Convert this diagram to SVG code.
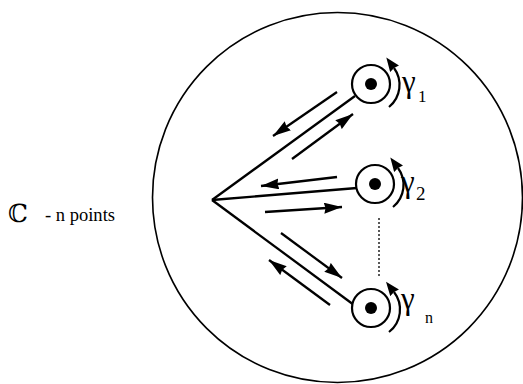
<svg xmlns="http://www.w3.org/2000/svg" width="523" height="384" viewBox="0 0 523 384">
<style>
.ln{stroke:#000;stroke-width:2.3;fill:none}
.ar{stroke:#000;stroke-width:2.3;fill:none;marker-end:url(#ah)}
.rot{stroke:#000;stroke-width:2.2;fill:none;marker-end:url(#ah2)}
.pt{stroke:#000;stroke-width:2.2;fill:#fff}
.lbl{font-family:"Liberation Serif",serif;fill:#000}
</style>
<defs>
<marker id="ah" markerUnits="userSpaceOnUse" markerWidth="19" markerHeight="11" refX="18" refY="5.5" orient="auto">
<path d="M0,0 L18,5.5 L0,11 L1.5,5.5 z" fill="#000"/>
</marker>
<marker id="ah2" markerUnits="userSpaceOnUse" markerWidth="16" markerHeight="11" refX="1" refY="5.5" orient="auto">
<path d="M0,0 L14,5.5 L0,11 L1,5.5 z" fill="#000"/>
</marker>
</defs>
<rect width="523" height="384" fill="#fff"/>
<g id="domain">
<circle cx="337.5" cy="197.5" r="185" fill="none" stroke="#000" stroke-width="1.6"/>
</g>
<g id="label-C">
<text class="lbl" x="8" y="222" style="font-family:'DejaVu Serif','DejaVu Sans',serif;font-size:25px">ℂ</text>
<text class="lbl" x="45" y="221" font-size="18" textLength="70" lengthAdjust="spacingAndGlyphs">- n points</text>
</g>
<g id="connectors">
<line class="ln" x1="212" y1="200" x2="355" y2="96"/>
<line class="ln" x1="212" y1="200" x2="357" y2="188"/>
<line class="ln" x1="212" y1="200" x2="354" y2="305"/>
<line class="ar" x1="337" y1="92" x2="273" y2="136"/>
<line class="ar" x1="292" y1="159" x2="353" y2="114"/>
<line class="ar" x1="337" y1="177" x2="261" y2="186"/>
<line class="ar" x1="265" y1="212" x2="342" y2="207"/>
<line class="ar" x1="281" y1="233" x2="342" y2="278"/>
<line class="ar" x1="330" y1="305" x2="269" y2="260"/>
<line x1="379" y1="218" x2="379" y2="278" stroke="#000" stroke-width="1.3" stroke-dasharray="2,2"/>
</g>
<g id="point-1">
<circle class="pt" cx="371" cy="84" r="19"/>
<circle cx="371" cy="84" r="6" fill="#000"/>
<path class="rot" d="M389,107 A28.5,28.5 0 0 0 394,68"/>
<text class="lbl" x="402" y="92" font-size="31">γ</text>
<text class="lbl" x="418" y="102" font-size="17">1</text>
</g>
<g id="point-2">
<circle class="pt" cx="375" cy="184" r="19"/>
<circle cx="375" cy="184" r="6" fill="#000"/>
<path class="rot" d="M393,207 A28.5,28.5 0 0 0 398,168"/>
<text class="lbl" x="401" y="192" font-size="31">γ</text>
<text class="lbl" x="416" y="200" font-size="19">2</text>
</g>
<g id="point-n">
<circle class="pt" cx="371" cy="308" r="19"/>
<circle cx="371" cy="308" r="6" fill="#000"/>
<path class="rot" d="M389,332 A28.5,28.5 0 0 0 394,292"/>
<text class="lbl" x="401" y="309" font-size="31">γ</text>
<text class="lbl" x="425" y="323" font-size="16">n</text>
</g>
</svg>
